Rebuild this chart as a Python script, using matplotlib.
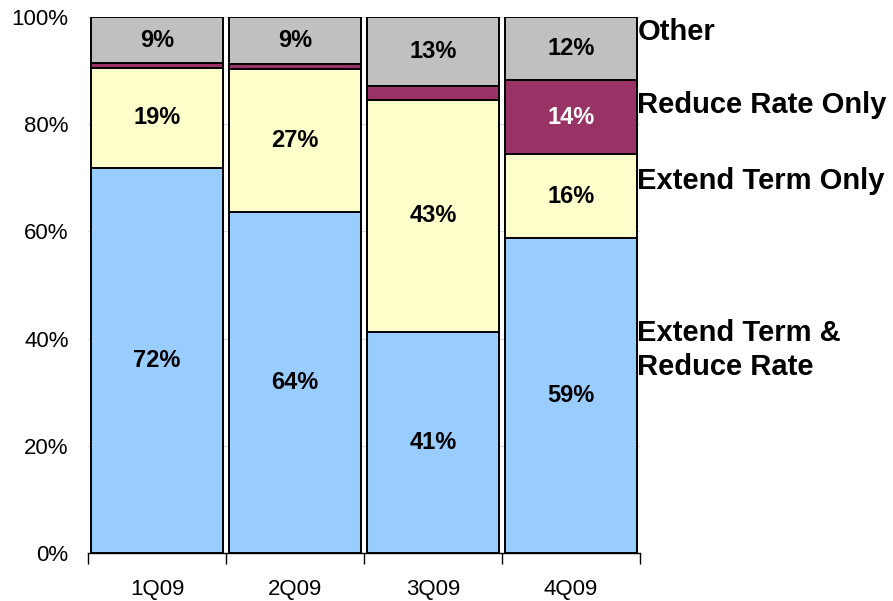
import numpy as np
import matplotlib
matplotlib.use("Agg")
import matplotlib.pyplot as plt

plt.rcParams['font.family'] = ['Liberation Sans', 'DejaVu Sans']

quarters = ['1Q09', '2Q09', '3Q09', '4Q09']
# shares in percent, bottom to top
extend_and_reduce = [71.9, 63.6, 41.3, 58.7]
extend_only = [18.6, 26.7, 43.3, 15.7]
reduce_only = [0.9, 0.9, 2.5, 13.8]
other = [8.6, 8.8, 12.9, 11.8]

series = [extend_and_reduce, extend_only, reduce_only, other]
colors = ['#99CCFF', '#FFFFCC', '#993366', '#C0C0C0']
text_colors = ['black', 'black', 'white', 'black']
series_names = ['Extend Term &\nReduce Rate', 'Extend Term Only', 'Reduce Rate Only', 'Other']
name_y = [37.9, 69.4, 83.6, 97.2]
yticks = [0, 20, 40, 60, 80, 100]

fig = plt.figure(figsize=(8.93, 6.01), dpi=100)
ax = fig.add_axes([0.0985, 0.0799, 0.6182, 0.8918])

x = np.arange(len(quarters))
bottom = np.zeros(len(quarters))
for vals, col, tcol in zip(series, colors, text_colors):
    vals = np.array(vals)
    ax.bar(x, vals, width=0.95, bottom=bottom, color=col,
           edgecolor='black', linewidth=1.4, zorder=3)
    for xi, b, v in zip(x, bottom, vals):
        if v >= 3:
            ax.text(xi, b + v / 2, '%d%%' % round(v), ha='center', va='center',
                    fontsize=17, fontweight='bold', color=tcol, zorder=4)
    bottom = bottom + vals

for name, yy in zip(series_names, name_y):
    ax.text(3.48, yy, name, ha='left', va='center', fontsize=21,
            fontweight='bold', linespacing=1.27, zorder=5, clip_on=False)

ax.set_xlim(-0.5, 3.5)
ax.set_ylim(0, 100)
ax.set_yticks(yticks)
ax.set_yticklabels(['%d%%' % t for t in yticks], fontsize=16)
ax.yaxis.grid(True, color='#D9D9D9', linewidth=0.8, zorder=0)
ax.tick_params(axis='y', length=0, pad=14)

ax.set_xticks(x)
ax.set_xticklabels(quarters, fontsize=16)
ax.set_xticks(np.arange(-0.5, 4, 1), minor=True)
ax.tick_params(axis='x', which='major', length=0, pad=19)
ax.tick_params(axis='x', which='minor', length=8, width=1, direction='out')

for s in ['left', 'right', 'top']:
    ax.spines[s].set_visible(False)
ax.spines['bottom'].set_linewidth(1)

fig.savefig('out.png', dpi=100)
